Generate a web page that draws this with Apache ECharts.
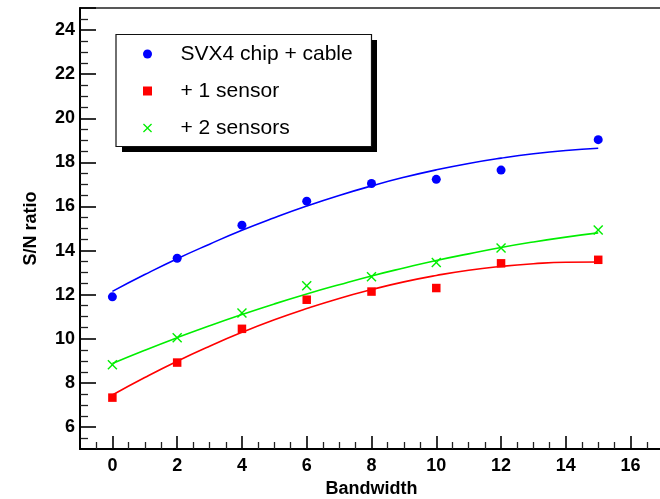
<!DOCTYPE html>
<html>
<head>
<meta charset="utf-8">
<script src="https://cdn.jsdelivr.net/npm/echarts@6/dist/echarts.min.js"></script>
<style>
html,body{margin:0;padding:0;background:#fff;}
#c{width:660px;height:499px;}
</style>
</head>
<body>
<div id="c"></div>
<script>
// Measured points
const bandwidth = [0, 2, 4, 6, 8, 10, 12, 15];
const chipCable = [11.9, 13.65, 15.15, 16.24, 17.04, 17.23, 17.65, 19.03];
const oneSensor = [7.33, 8.92, 10.45, 11.77, 12.14, 12.3, 13.42, 13.58];
const twoSensors = [8.82, 10.04, 11.17, 12.4, 12.81, 13.46, 14.11, 14.93];

// Fit curves
const fitX = [0, 1, 2, 3, 4, 5, 6, 7, 8, 9, 10, 11, 12, 13, 14, 15];
const fitChipCable = [12.15, 12.91, 13.63, 14.29, 14.92, 15.49, 16.02, 16.50, 16.93, 17.32, 17.66, 17.95, 18.19, 18.39, 18.54, 18.64];
const fitOneSensor = [7.45, 8.24, 8.98, 9.66, 10.29, 10.86, 11.37, 11.83, 12.23, 12.58, 12.87, 13.11, 13.28, 13.40, 13.47, 13.48];
const fitTwoSensors = [8.88, 9.48, 10.05, 10.59, 11.10, 11.58, 12.03, 12.45, 12.85, 13.21, 13.55, 13.85, 14.14, 14.39, 14.61, 14.80];

const seriesNames = ['SVX4 chip + cable', '+ 1 sensor', '+ 2 sensors'];
const xTitle = 'Bandwidth';
const yTitle = 'S/N ratio';

const pairs = (xs, ys) => xs.map((x, i) => [x, ys[i]]);
const crossPath = 'path://M0,1L1,0L5,4L9,0L10,1L6,5L10,9L9,10L5,6L1,10L0,9L4,5Z';
const squarePath = 'path://M0,0L10,0L10,10L0,10Z';
const FONT = '"Liberation Sans", Arial, Helvetica, sans-serif';

const chart = echarts.init(document.getElementById('c'), null, {renderer: 'canvas'});

const axisCommon = {
  type: 'value',
  axisLine: {show: true, onZero: false, lineStyle: {color: '#000', width: 2}},
  splitLine: {show: false},
  axisLabel: {
    showMinLabel: false, showMaxLabel: false,
    fontSize: 18, fontWeight: 'bold', color: '#000', fontFamily: FONT
  },
  nameLocation: 'middle',
  nameTextStyle: {fontSize: 18, fontWeight: 'bold', color: '#000', fontFamily: FONT}
};

const option = {
  animation: false,
  backgroundColor: '#fff',
  grid: {
    left: 80, top: 8, width: 583, height: 441,
    outerBoundsMode: 'none', containLabel: false,
    show: true, borderColor: '#222', borderWidth: 1.5, backgroundColor: 'transparent'
  },
  xAxis: Object.assign({}, axisCommon, {
    min: -1, max: 17, splitNumber: 9,
    axisTick: {show: true, inside: true, length: 13, lineStyle: {color: '#000', width: 1.6}},
    minorTick: {show: true, splitNumber: 4, length: 7, lineStyle: {color: '#222', width: 1.3}},
    axisLabel: Object.assign({}, axisCommon.axisLabel, {margin: 8}),
    name: xTitle, nameGap: 30
  }),
  yAxis: Object.assign({}, axisCommon, {
    min: 5, max: 25, splitNumber: 10,
    axisTick: {show: true, inside: true, length: 16, lineStyle: {color: '#000', width: 1.6}},
    minorTick: {show: true, splitNumber: 4, length: 8, lineStyle: {color: '#222', width: 1.3}},
    axisLabel: Object.assign({}, axisCommon.axisLabel, {margin: 5}),
    name: yTitle, nameGap: 40, nameRotate: 90
  }),
  graphic: [
    {type: 'rect', z: 10, shape: {x: 122, y: 40, width: 255, height: 112}, style: {fill: '#000'}},
    {type: 'rect', z: 11, shape: {x: 116, y: 34.5, width: 255.5, height: 112}, style: {fill: '#fff', stroke: '#111', lineWidth: 1.2}}
  ],
  legend: {
    z: 20,
    data: seriesNames,
    orient: 'vertical',
    left: 143, top: 42, padding: 0,
    itemWidth: 56, itemHeight: 9, itemGap: 13,
    symbolKeepAspect: true,
    textStyle: {fontSize: 21, color: '#000', fontFamily: FONT, lineHeight: 24},
    selectedMode: false
  },
  series: [
    {name: seriesNames[0], type: 'scatter', symbol: 'circle', symbolSize: 9, z: 5,
     itemStyle: {color: '#0000ff', opacity: 1}, data: pairs(bandwidth, chipCable)},
    {name: seriesNames[1], type: 'scatter', symbol: squarePath, symbolSize: 8.5, z: 5,
     itemStyle: {color: '#ff0000', opacity: 1}, data: pairs(bandwidth, oneSensor)},
    {name: seriesNames[2], type: 'scatter', symbol: crossPath, symbolSize: 10, z: 5,
     itemStyle: {color: '#00ee00', opacity: 1}, data: pairs(bandwidth, twoSensors)},
    {name: 'fit1', type: 'line', smooth: true, showSymbol: false, z: 4,
     lineStyle: {color: '#0000ff', width: 1.6}, data: pairs(fitX, fitChipCable)},
    {name: 'fit2', type: 'line', smooth: true, showSymbol: false, z: 4,
     lineStyle: {color: '#ff0000', width: 1.6}, data: pairs(fitX, fitOneSensor)},
    {name: 'fit3', type: 'line', smooth: true, showSymbol: false, z: 4,
     lineStyle: {color: '#00ee00', width: 1.6}, data: pairs(fitX, fitTwoSensors)}
  ]
};
chart.setOption(option);
</script>
</body>
</html>
